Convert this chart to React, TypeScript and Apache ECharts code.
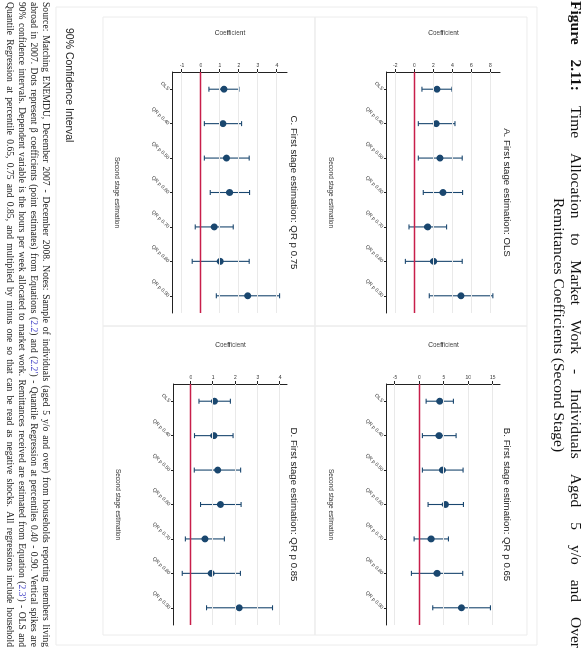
import React, { useEffect, useRef } from "react";
import * as echarts from "echarts";

const categories = ["OLS", "QR p 0.40", "QR p 0.50", "QR p 0.60", "QR p 0.70", "QR p 0.80", "QR p 0.90"];

const panelTitles = [
  "A. First stage estimation: OLS",
  "B. First stage estimation: QR p 0.65",
  "C. First stage estimation: QR p 0.75",
  "D. First stage estimation: QR p 0.85",
];

const estA = [2.38, 2.31, 2.69, 3.01, 1.4, 2.03, 4.9];
const lowA = [0.8, 0.42, 0.42, 0.94, -0.56, -0.94, 1.57];
const highA = [3.95, 4.27, 5.03, 5.07, 3.39, 5.03, 8.25];
const ticksA = [-2, 0, 2, 4, 6, 8];
const rangeA = [-2.87, 9.0];

const estB = [4.16, 4.03, 4.71, 5.32, 2.39, 3.62, 8.6];
const lowB = [1.37, 0.61, 0.61, 1.77, -1.09, -1.64, 2.73];
const highB = [6.96, 7.51, 8.94, 9.01, 5.94, 8.87, 14.54];
const ticksB = [-5, 0, 5, 10, 15];
const rangeB = [-6.64, 16.5];

const estC = [1.21, 1.16, 1.35, 1.51, 0.7, 1.02, 2.46];
const lowC = [0.42, 0.18, 0.18, 0.49, -0.3, -0.46, 0.81];
const highC = [2.0, 2.14, 2.54, 2.56, 1.7, 2.54, 4.14];
const ticksC = [-1, 0, 1, 2, 3, 4];
const rangeC = [-1.47, 4.53];

const estD = [1.06, 1.03, 1.2, 1.33, 0.63, 0.91, 2.17];
const lowD = [0.36, 0.16, 0.15, 0.43, -0.25, -0.39, 0.7];
const highD = [1.77, 1.89, 2.23, 2.25, 1.5, 2.22, 3.66];
const ticksD = [0, 1, 2, 3, 4];
const rangeD = [-0.76, 4.31];

const valueAxisName = "Coefficient";
const categoryAxisName = "Second stage estimation";
const legendNote = "90% Confidence Interval";

const titleLine1 = "{b|Figure} {b|2.11:} Time Allocation to Market Work - Individuals Aged 5 y/o and Over";
const titleLine2 = "Remittances Coefficients (Second Stage)";
const noteLines = [
  "Source: Matching ENEMDU, December 2007 - December 2008. Notes: Sample of individuals (aged 5 y/o and over) from households reporting members living",
  "abroad in 2007. Dots represent β coefficients (point estimates) from Equations ({l|2.2}) and ({l|2.2′}) - Quantile Regression at percentiles 0.40 - 0.90. Vertical spikes are",
  "90% confidence intervals. Dependent variable is the hours per week allocated to market work. Remittances received are estimated from Equation ({l|2.3′}) - OLS and",
  "Quantile Regression at percentile 0.65, 0.75 and 0.85, and multiplied by minus one so that can be read as negative shocks. All regressions include household",
];

const panels = [
  { est: estA, low: lowA, high: highA, ticks: ticksA, range: rangeA },
  { est: estB, low: lowB, high: highB, ticks: ticksB, range: rangeB },
  { est: estC, low: lowC, high: highC, ticks: ticksC, range: rangeC },
  { est: estD, low: lowD, high: highD, ticks: ticksD, range: rangeD },
];

// layout (unrotated frame 650 x 585)
const gridPos = [
  { left: 72, top: 85, width: 241, height: 113 },
  { left: 384, top: 85, width: 241, height: 113 },
  { left: 72, top: 298, width: 241, height: 114 },
  { left: 384, top: 298, width: 241, height: 113 },
];
const boxPos = [
  { x: 17, y: 58, w: 309, h: 212 },
  { x: 326, y: 58, w: 309, h: 212 },
  { x: 17, y: 270, w: 309, h: 212 },
  { x: 326, y: 270, w: 309, h: 212 },
];
const titleY = [77, 77, 290, 290];

const NAVY = "#1a476f";
const RED = "#c81e4a";
const GRIDC = "#e9e9e9";
const SANS = "Liberation Sans, Arial, sans-serif";
const SERIF = "Liberation Serif, Times New Roman, serif";

function stripRich(s: string) {
  return s.replace(/\{(\w+)\|([^}]*)\}/g, "$2");
}

export default function App() {
  const ref = useRef<HTMLDivElement>(null);
  useEffect(() => {
    if (!ref.current) return;
    const chart = echarts.init(ref.current, undefined, { renderer: "svg", width: 650, height: 585 });

    const canvas = document.createElement("canvas");
    const ctx = canvas.getContext("2d") as CanvasRenderingContext2D;
    const measure = (t: string, size: number, bold: boolean) => {
      ctx.font = `${bold ? "bold " : ""}${size}px "Liberation Serif", "Times New Roman", serif`;
      return ctx.measureText(t).width;
    };

    const justified = (line: string, x0: number, x1: number, y: number, size: number, fill: string, out: any[]) => {
      const words = line.split(" ");
      const widths = words.map((w) => {
        const bold = w.startsWith("{b|");
        return measure(stripRich(w), size, bold);
      });
      const total = widths.reduce((a, b) => a + b, 0);
      const gap = words.length > 1 ? (x1 - x0 - total) / (words.length - 1) : 0;
      let x = x0;
      words.forEach((w, k) => {
        out.push({
          type: "text",
          x,
          y,
          silent: true,
          style: {
            text: w,
            fontSize: size,
            fontFamily: SERIF,
            fill,
            align: "left",
            verticalAlign: "middle",
            rich: {
              b: { fontSize: size, fontFamily: SERIF, fontWeight: "bold", fill },
              l: { fontSize: size, fontFamily: SERIF, fill: "#4646c8" },
            },
          },
        });
        x += widths[k] + gap;
      });
    };

    const grid = gridPos.map((g) => ({ ...g, containLabel: false }));
    const xAxis = panels.map((_, i) => ({
      type: "category",
      gridIndex: i,
      data: categories,
      boundaryGap: true,
      axisLine: { show: true, onZero: false, lineStyle: { color: "#222", width: 1 } },
      axisTick: { show: true, alignWithLabel: true, length: 3, lineStyle: { color: "#222" } },
      axisLabel: { rotate: 45, fontSize: 5, color: "#333", margin: 4, fontFamily: SANS },
      splitLine: { show: false },
      name: categoryAxisName,
      nameLocation: "middle",
      nameGap: 52,
      nameTextStyle: { fontSize: 6.5, color: "#333", fontFamily: SANS },
    }));
    const yAxis = panels.map((p, i) => ({
      type: "value",
      gridIndex: i,
      min: p.range[0],
      max: p.range[1],
      axisLine: { show: true, onZero: false, lineStyle: { color: "#222", width: 1 } },
      axisTick: { show: true, length: 3, customValues: p.ticks, lineStyle: { color: "#222" } },
      axisLabel: { rotate: 90, fontSize: 5, color: "#333", margin: 5, customValues: p.ticks, fontFamily: SANS },
      splitLine: { show: false },
      name: valueAxisName,
      nameLocation: "middle",
      nameRotate: 90,
      nameGap: 36,
      nameTextStyle: { fontSize: 6.5, color: "#333", fontFamily: SANS },
    }));

    const series: any[] = [];
    panels.forEach((p, i) => {
      series.push({
        type: "scatter",
        xAxisIndex: i,
        yAxisIndex: i,
        data: [],
        z: 1,
        silent: true,
        markLine: {
          silent: true,
          symbol: "none",
          label: { show: false },
          animation: false,
          data: [
            ...p.ticks
              .filter((v) => v !== 0)
              .map((v) => ({ yAxis: v, lineStyle: { color: GRIDC, width: 1, type: "solid" } })),
            { yAxis: 0, lineStyle: { color: RED, width: 1.4, type: "solid" } },
          ],
        },
      });
      series.push({
        type: "custom",
        xAxisIndex: i,
        yAxisIndex: i,
        z: 2,
        data: categories.map((_, j) => [j, p.low[j], p.high[j]]),
        encode: { x: 0, y: [1, 2] },
        renderItem: (params: any, api: any) => {
          const x = api.value(0);
          const lo = api.coord([x, api.value(1)]);
          const hi = api.coord([x, api.value(2)]);
          const cap = 2.5;
          const style = { stroke: NAVY, lineWidth: 1.1 };
          return {
            type: "group",
            children: [
              { type: "line", shape: { x1: lo[0], y1: lo[1], x2: hi[0], y2: hi[1] }, style },
              { type: "line", shape: { x1: lo[0] - cap, y1: lo[1], x2: lo[0] + cap, y2: lo[1] }, style },
              { type: "line", shape: { x1: hi[0] - cap, y1: hi[1], x2: hi[0] + cap, y2: hi[1] }, style },
            ],
          };
        },
      });
      series.push({
        type: "scatter",
        xAxisIndex: i,
        yAxisIndex: i,
        z: 3,
        symbol: "circle",
        symbolSize: 7,
        itemStyle: { color: NAVY, opacity: 1 },
        data: p.est.map((v, j) => [j, v]),
      });
    });

    const graphic: any[] = [];
    graphic.push({
      type: "rect",
      shape: { x: 7, y: 48, width: 638, height: 481 },
      style: { fill: "none", stroke: "#ececec", lineWidth: 1 },
      silent: true,
    });
    boxPos.forEach((b) =>
      graphic.push({
        type: "rect",
        shape: { x: b.x, y: b.y, width: b.w, height: b.h },
        style: { fill: "none", stroke: "#ececec", lineWidth: 1 },
        silent: true,
      })
    );
    panelTitles.forEach((t, i) => {
      const g = gridPos[i];
      graphic.push({
        type: "text",
        x: g.left + g.width / 2,
        y: titleY[i],
        style: {
          text: t,
          fontSize: 9.7,
          fontFamily: SANS,
          fill: "#222",
          align: "center",
          verticalAlign: "middle",
        },
      });
    });
    graphic.push({
      type: "text",
      x: 28,
      y: 515,
      style: { text: legendNote, fontSize: 10.5, fontFamily: SANS, fill: "#222", align: "left", verticalAlign: "middle" },
    });
    justified(titleLine1, 1, 648, 8, 15.5, "#111", graphic);
    graphic.push({
      type: "text",
      x: 325,
      y: 25,
      style: { text: titleLine2, fontSize: 15.5, fontFamily: SERIF, fill: "#111", align: "center", verticalAlign: "middle" },
    });
    noteLines.forEach((t, i) => {
      justified(t, 2, 647, 538 + i * 12, 9.6, "#222", graphic);
    });

    chart.setOption({
      animation: false,
      backgroundColor: "#ffffff",
      grid,
      xAxis,
      yAxis,
      series,
      graphic,
    } as any);
    return () => chart.dispose();
  }, []);

  return (
    <div
      style={{
        position: "fixed",
        left: 0,
        top: 0,
        width: 650,
        height: 585,
        transformOrigin: "0 0",
        transform: "translateX(585px) rotate(90deg)",
        background: "#fff",
      }}
    >
      <div ref={ref} style={{ width: 650, height: 585 }} />
    </div>
  );
}
